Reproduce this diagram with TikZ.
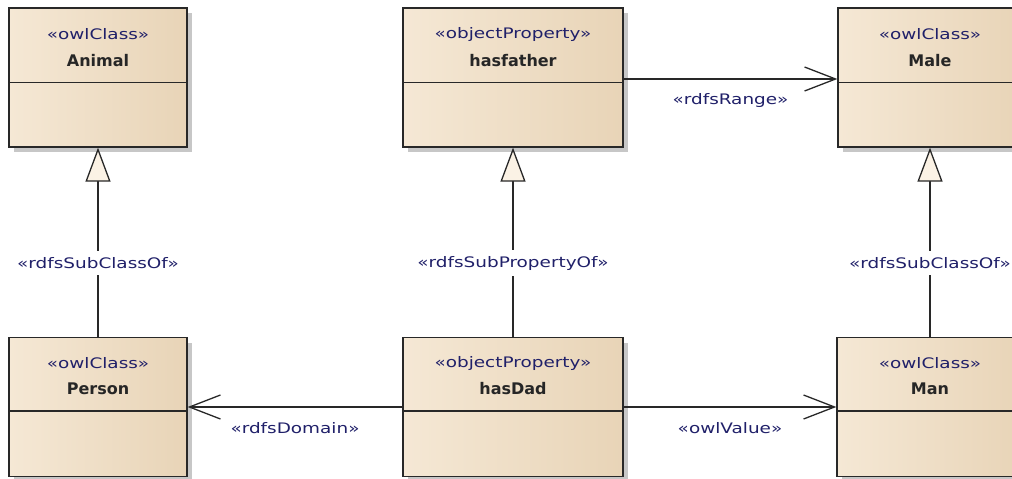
\documentclass[tikz,border=0pt]{standalone}
\usepackage{fontspec}
\newfontfamily\stereofont[FakeStretch=1.27]{DejaVu Sans}
\newfontfamily\titlefont{DejaVu Sans}
\usepackage{tikz}
\usetikzlibrary{arrows.meta,shadows}

\definecolor{boxleft}{RGB}{245,232,213}
\definecolor{boxmid}{RGB}{251,242,229}
\definecolor{boxright}{RGB}{232,212,183}
\definecolor{linegray}{RGB}{40,40,40}
\definecolor{labelblue}{RGB}{32,32,105}

\begin{document}
\begin{tikzpicture}[
        x=1pt, y=-1pt,
        umlbox/.style={rectangle, draw=linegray, line width=1.3pt, left color=boxleft, middle color=boxmid, right color=boxright,
          drop shadow={shadow xshift=5pt, shadow yshift=-5pt, fill=black!22, opacity=1}, inner sep=0pt, minimum height=139pt},
        sep/.style={draw=linegray, line width=1.3pt},
        stereo/.style={font=\stereofont\fontsize{14.5}{17}\selectfont, text=labelblue, inner sep=0pt},
        title/.style={font=\titlefont\bfseries\fontsize{16}{19}\selectfont, text=black!85, inner sep=0pt},
        conlabel/.style={stereo, fill=white, inner xsep=1pt, inner ysep=6pt},
        assoc/.style={draw=linegray, line width=1.3pt, -{Straight Barb[length=31pt, width=24pt]}},
        gen/.style={draw=linegray, line width=1.3pt, -{Triangle[length=34pt, width=25pt, fill=boxmid]}}
      ]
      \useasboundingbox (0,0) rectangle (1012,479);

      % Top row
      \node[umlbox, minimum width=178pt] (animal) at (98,77.5) {};
      \node[umlbox, minimum width=220pt] (hasfather) at (513,77.5) {};
      \node[umlbox, minimum width=184pt] (male) at (930,77.5) {};

      % Bottom row
      \node[umlbox, minimum width=178pt] (person) at (98,407) {};
      \node[umlbox, minimum width=220pt] (hasdad) at (513,407) {};
      \node[umlbox, minimum width=186pt] (man) at (930,407) {};

      % Compartments
      \draw[sep] ([yshift=-75pt]animal.north west) -- ([yshift=-75pt]animal.north east);
      \draw[sep] ([yshift=-75pt]hasfather.north west) -- ([yshift=-75pt]hasfather.north east);
      \draw[sep] ([yshift=-75pt]male.north west) -- ([yshift=-75pt]male.north east);
      \draw[sep] ([yshift=-74pt]person.north west) -- ([yshift=-74pt]person.north east);
      \draw[sep] ([yshift=-74pt]hasdad.north west) -- ([yshift=-74pt]hasdad.north east);
      \draw[sep] ([yshift=-74pt]man.north west) -- ([yshift=-74pt]man.north east);

      % Names
      \node[stereo] (animalst) at (98,34) {«owlClass»};
      \node[title] (animalnm) at (98,61) {Animal};
      \node[stereo] (hasfatherst) at (513,34) {«objectProperty»};
      \node[title] (hasfathernm) at (513,61) {hasfather};
      \node[stereo] (malest) at (930,34) {«owlClass»};
      \node[title] (malenm) at (930,61) {Male};
      \node[stereo] (personst) at (98,363) {«owlClass»};
      \node[title] (personnm) at (98,389) {Person};
      \node[stereo] (hasdadst) at (513,363) {«objectProperty»};
      \node[title] (hasdadnm) at (513,389) {hasDad};
      \node[stereo] (manst) at (930,363) {«owlClass»};
      \node[title] (mannm) at (930,389) {Man};

      % Connections
      \draw[gen] (person) -- (animal) node[conlabel, pos=0.39] {«rdfsSubClassOf»};
      \draw[gen] (hasdad) -- (hasfather) node[conlabel, pos=0.39] {«rdfsSubPropertyOf»};
      \draw[gen] (man) -- (male) node[conlabel, pos=0.39] {«rdfsSubClassOf»};
      \draw[assoc] ([yshift=-1.5pt]hasfather.east) -- ([yshift=-1.5pt]male.west) node[conlabel, midway, yshift=-21pt] {«rdfsRange»};
      \draw[assoc] (hasdad) -- (man) node[conlabel, midway, yshift=-21pt] {«owlValue»};
      \draw[assoc] (hasdad) -- (person) node[conlabel, midway, yshift=-21pt] {«rdfsDomain»};

    \end{tikzpicture}
\end{document}
